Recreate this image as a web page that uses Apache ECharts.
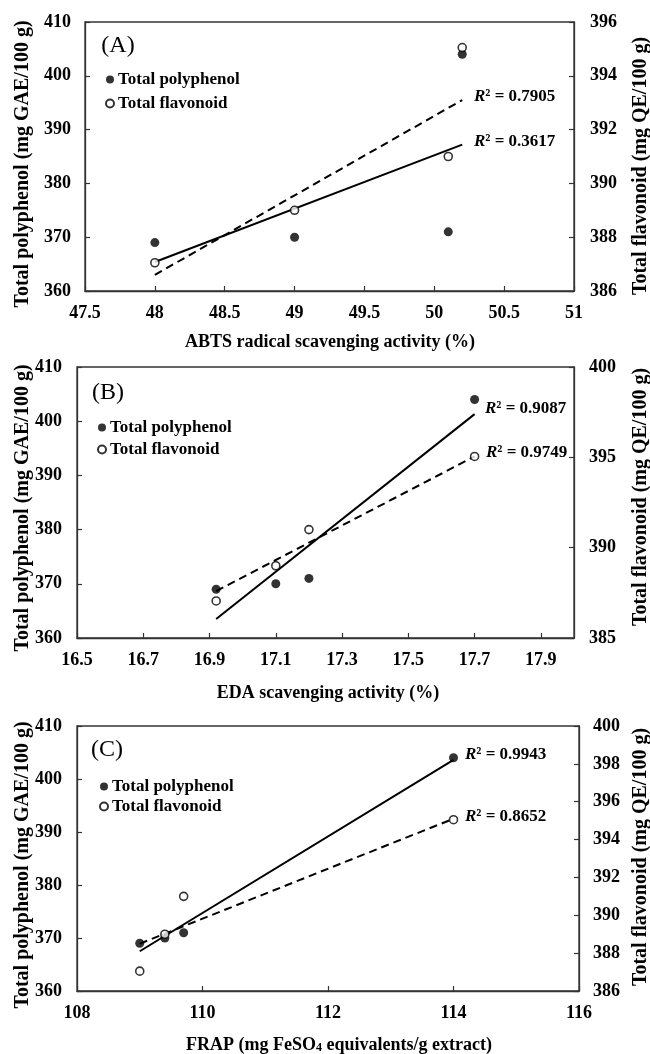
<!DOCTYPE html>
<html>
<head>
<meta charset="utf-8">
<script src="https://cdn.jsdelivr.net/npm/echarts@6/dist/echarts.min.js"></script>
<style>
  html, body { margin: 0; padding: 0; background: #fff; }
  #chart { width: 650px; height: 1054px; }
</style>
</head>
<body>
<div id="chart"></div>
<script>
// x values of the four samples in each panel
var xA = [48, 49, 50.1, 50.2];
var xB = [16.92, 17.1, 17.2, 17.7];
var xC = [109, 109.4, 109.7, 114];
// same four samples on the y axes
var polyphenol = [369, 370, 371, 404];
var flavonoid = [387.05, 389, 391, 395.05];

// trend line ends
var trendXA = [48, 50.2];
var trendPolyA = [365.4, 387.2];
var trendFlavA = [386.6, 393.1];
var trendXB = [16.92, 17.7];
var trendPolyB = [363.5, 401.3];
var trendFlavB = [387.6, 395.05];
var trendXC = [109, 114];
var trendPolyC = [367.5, 403.6];
var trendFlavC = [388.5, 395.1];

var r2A = ['0.3617', '0.7905'];
var r2B = ['0.9087', '0.9749'];
var r2C = ['0.9943', '0.8652'];

var ticksXB = [16.5, 16.7, 16.9, 17.1, 17.3, 17.5, 17.7, 17.9];

var FONT = '"Liberation Serif", "Times New Roman", serif';
var INK = '#000';
var LINE = '#333';

function pairs(xs, ys) {
    var out = [];
    for (var i = 0; i < xs.length; i++) out.push([xs[i], ys[i]]);
    return out;
}

var labelStyle = { fontFamily: FONT, fontWeight: 'bold', fontSize: 18, color: INK };

function xAxisOf(grid, min, max, interval, extra) {
    var ax = {
        type: 'value', gridIndex: grid, min: min, max: max,
        axisLine: { lineStyle: { color: LINE, width: 1.3 } },
        axisTick: { inside: true, length: 5, lineStyle: { color: LINE, width: 1.2 } },
        axisLabel: Object.assign({ margin: 13 }, labelStyle),
        splitLine: { show: false }
    };
    if (interval) ax.interval = interval;
    if (extra) {
        ax.axisLabel.customValues = extra;
        ax.axisLabel.formatter = function (v) { return v.toFixed(1); };
        ax.axisTick.customValues = extra;
    }
    return ax;
}
function yAxisOf(grid, pos, min, max, interval, margin) {
    return {
        type: 'value', gridIndex: grid, position: pos, min: min, max: max, interval: interval,
        axisLine: { show: true, lineStyle: { color: LINE, width: 1.3 } },
        axisTick: { show: true, inside: true, length: 5, lineStyle: { color: LINE, width: 1.2 } },
        axisLabel: Object.assign({ margin: margin }, labelStyle),
        splitLine: { show: false }
    };
}

var series = [];
function panel(i, xs, tx, tPoly, tFlav) {
    series.push({
        name: 'Total polyphenol trend', type: 'line', xAxisIndex: i, yAxisIndex: 2 * i,
        data: pairs(tx, tPoly), symbol: 'none', z: 2,
        lineStyle: { color: INK, width: 2 }
    });
    series.push({
        name: 'Total flavonoid trend', type: 'line', xAxisIndex: i, yAxisIndex: 2 * i + 1,
        data: pairs(tx, tFlav), symbol: 'none', z: 2,
        lineStyle: { color: INK, width: 2, type: [8, 5] }
    });
    series.push({
        name: 'Total polyphenol', type: 'scatter', xAxisIndex: i, yAxisIndex: 2 * i,
        data: pairs(xs, polyphenol), symbol: 'circle', symbolSize: 9, z: 4,
        itemStyle: { color: INK }
    });
    series.push({
        name: 'Total flavonoid', type: 'scatter', xAxisIndex: i, yAxisIndex: 2 * i + 1,
        data: pairs(xs, flavonoid), symbol: 'circle', symbolSize: 8, z: 5,
        itemStyle: { color: '#fff', borderColor: INK, borderWidth: 1.6 }
    });
}
panel(0, xA, trendXA, trendPolyA, trendFlavA);
panel(1, xB, trendXB, trendPolyB, trendFlavB);
panel(2, xC, trendXC, trendPolyC, trendFlavC);

function legendAt(left, top, gap) {
    return {
        orient: 'vertical', left: left, top: top, padding: 0, itemGap: gap,
        itemWidth: 8, itemHeight: 8, icon: 'circle', selectedMode: false,
        data: ['Total polyphenol', 'Total flavonoid'],
        textStyle: { fontFamily: FONT, fontWeight: 'bold', fontSize: 17, lineHeight: 17, color: INK, padding: [0, 0, 0, -1] }
    };
}

function text(x, y, str, size, extra) {
    return Object.assign({
        type: 'text', x: x, y: y, silent: true,
        style: {
            text: str, fontFamily: FONT, fontWeight: 'bold', fontSize: size,
            fill: INK, align: 'center', verticalAlign: 'middle'
        }
    }, extra || {});
}
function r2(x, y, val) {
    var base = { fontFamily: FONT, fontWeight: 'bold', fontSize: 17, fill: INK };
    return {
        type: 'text', x: x, y: y, silent: true,
        style: {
            text: '{i|R}{n|\u00b2 = ' + val + '}',
            align: 'left', verticalAlign: 'middle',
            rich: {
                i: Object.assign({ fontStyle: 'italic' }, base),
                n: base
            }
        }
    };
}
function letter(x, y, str) {
    return {
        type: 'text', x: x, y: y, silent: true,
        style: { text: str, fontFamily: FONT, fontSize: 24, fill: INK, align: 'center', verticalAlign: 'middle' }
    };
}
var up = { rotation: Math.PI / 2 };
var subBase = { fontFamily: FONT, fontWeight: 'bold', fontSize: 18, fill: INK };

var graphics = [
    letter(118, 46, '(A)'), letter(108, 393, '(B)'), letter(107, 750, '(C)'),
    r2(474, 142, r2A[0]), r2(474, 97, r2A[1]),
    r2(485, 409, r2B[0]), r2(486, 453, r2B[1]),
    r2(465, 755, r2C[0]), r2(465, 817, r2C[1]),
    text(330, 342, 'ABTS radical scavenging activity (%)', 18),
    text(328, 693, 'EDA scavenging activity (%)', 18),
    {
        type: 'text', x: 339, y: 1045, silent: true,
        style: {
            text: '{n|FRAP (mg FeSO}{s|4}{n| equivalents/g extract)}',
            align: 'center', verticalAlign: 'middle',
            rich: {
                n: subBase,
                s: { fontFamily: FONT, fontWeight: 'bold', fontSize: 12, lineHeight: 6, fill: INK, verticalAlign: 'bottom' }
            }
        }
    },
    text(23, 164, 'Total polyphenol (mg GAE/100 g)', 20, up),
    text(23, 508, 'Total polyphenol (mg GAE/100 g)', 20, up),
    text(23, 865, 'Total polyphenol (mg GAE/100 g)', 20, up),
    text(641, 166, 'Total flavonoid (mg QE/100 g)', 20, up),
    text(641, 497, 'Total flavonoid (mg QE/100 g)', 20, up),
    text(641, 857, 'Total flavonoid (mg QE/100 g)', 20, up)
];

var gridStyle = { show: true, borderColor: LINE, borderWidth: 1.3, backgroundColor: 'transparent' };

var chart = echarts.init(document.getElementById('chart'), null, { renderer: 'canvas' });
var option = {
    animation: false,
    backgroundColor: '#fff',
    grid: [
        Object.assign({ left: 85, top: 22, width: 489, height: 269 }, gridStyle),
        Object.assign({ left: 77, top: 367, width: 497, height: 271 }, gridStyle),
        Object.assign({ left: 77, top: 726, width: 502, height: 265 }, gridStyle)
    ],
    xAxis: [
        xAxisOf(0, 47.5, 51, 0.5),
        xAxisOf(1, 16.5, 18.0, null, ticksXB),
        xAxisOf(2, 108, 116, 2)
    ],
    yAxis: [
        yAxisOf(0, 'left', 360, 410, 10, 14),
        yAxisOf(0, 'right', 386, 396, 2, 16),
        yAxisOf(1, 'left', 360, 410, 10, 15),
        yAxisOf(1, 'right', 385, 400, 5, 15),
        yAxisOf(2, 'left', 360, 410, 10, 15),
        yAxisOf(2, 'right', 386, 400, 2, 14)
    ],
    legend: [
        legendAt(105, 71, 7),
        legendAt(97, 419, 5),
        legendAt(99, 778, 3)
    ],
    graphic: graphics,
    series: series
};
chart.setOption(option);
</script>
</body>
</html>
